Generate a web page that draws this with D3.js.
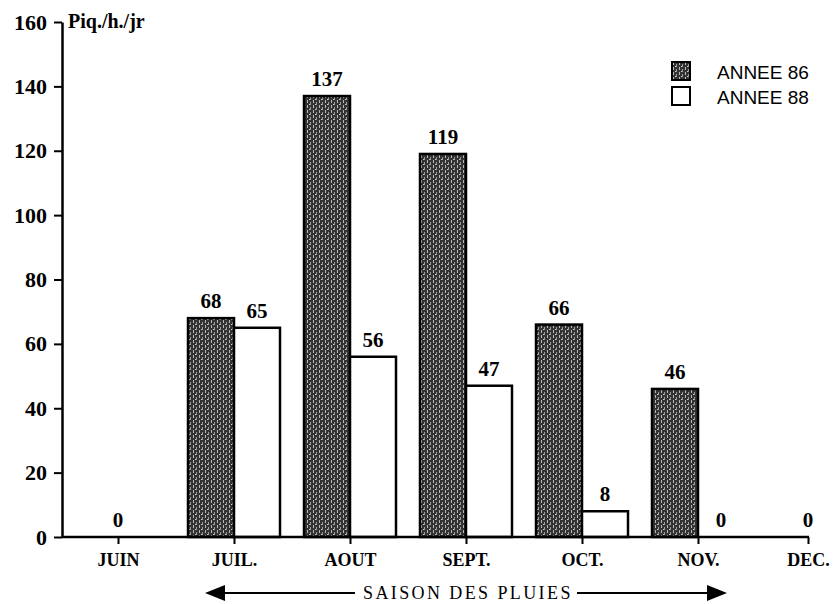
<!DOCTYPE html>
<html>
<head>
<meta charset="utf-8">
<script src="https://cdn.jsdelivr.net/npm/d3@7"></script>
<style>
  body { margin: 0; background: #fff; }
</style>
</head>
<body>
<script>
// data
const months = ["JUIN", "JUIL.", "AOUT", "SEPT.", "OCT.", "NOV.", "DEC."];
const annee86 = [0, 68, 137, 119, 66, 46, 0];
const annee88 = [0, 65, 56, 47, 8, 0, 0];
const yTicks = [0, 20, 40, 60, 80, 100, 120, 140, 160];
const legendLabels = ["ANNEE 86", "ANNEE 88"];

const width = 836, height = 604;
const barW = 46;
const serif = "'Liberation Serif', 'DejaVu Serif', serif";
const sans = "'Liberation Sans', Arial, sans-serif";

let svg = d3.select("body").append("svg")
        .attr("width", width)
        .attr("height", height);

// texture for the 86 bars
let defs = svg.append("defs");
let pat = defs.append("pattern")
        .attr("id", "grain")
        .attr("width", 6)
        .attr("height", 5)
        .attr("patternUnits", "userSpaceOnUse");
pat.append("rect").attr("width", 6).attr("height", 5).attr("fill", "#333");
pat.append("rect").attr("x", 1).attr("y", 0).attr("width", 1).attr("height", 3).attr("fill", "#b8b8b8");
pat.append("rect").attr("x", 4).attr("y", 2).attr("width", 1).attr("height", 3).attr("fill", "#9a9a9a");
pat.append("rect").attr("x", 3).attr("y", 4).attr("width", 1).attr("height", 1).attr("fill", "#d0d0d0");

let y = d3.scaleLinear().domain([0, 160]).range([537, 22]);
// month index -> pixel; last month sits closer to NOV in the figure
let x = d3.scaleLinear().domain([0, 5, 6]).range([118, 698, 808]);

let idx = d3.range(months.length);

// bars
svg.append("g").selectAll("rect")
   .data(idx.filter(i => annee86[i] > 0))
   .join("rect")
   .attr("x", i => x(i) - barW)
   .attr("y", i => y(annee86[i]))
   .attr("width", barW)
   .attr("height", i => y(0) - y(annee86[i]))
   .attr("fill", "url(#grain)")
   .attr("stroke", "#000")
   .attr("stroke-width", 2.5);

svg.append("g").selectAll("rect")
   .data(idx.filter(i => annee88[i] > 0))
   .join("rect")
   .attr("x", i => x(i))
   .attr("y", i => y(annee88[i]))
   .attr("width", barW)
   .attr("height", i => y(0) - y(annee88[i]))
   .attr("fill", "#fff")
   .attr("stroke", "#000")
   .attr("stroke-width", 2.5);

// value labels
let labels = [];
idx.forEach(i => {
  if (annee86[i] === 0 && annee88[i] === 0) {
    labels.push({x: x(i), v: 0});
  } else {
    labels.push({x: x(i) - barW / 2, v: annee86[i]});
    labels.push({x: x(i) + barW / 2, v: annee88[i]});
  }
});
svg.append("g").selectAll("text")
   .data(labels)
   .join("text")
   .attr("font-family", serif)
   .attr("font-weight", "bold")
   .attr("x", d => d.x)
   .attr("y", d => y(d.v) - 10)
   .attr("text-anchor", "middle")
   .attr("font-size", 21)
   .text(d => d.v);

// y axis
let yAxis = d3.axisLeft(y).tickValues(yTicks).tickSize(8).tickSizeOuter(0).tickPadding(7);
let gy = svg.append("g")
   .attr("transform", "translate(62,0)")
   .call(yAxis);
gy.select(".domain").attr("stroke-width", 2.5);
gy.selectAll(".tick line").attr("stroke-width", 2);
gy.selectAll(".tick text")
  .attr("font-family", serif)
  .attr("font-weight", "bold")
  .attr("font-size", 22)
  .attr("fill", "#000");

svg.append("text")
   .attr("font-family", serif)
   .attr("font-weight", "bold")
   .attr("x", 68)
   .attr("y", 28)
   .attr("font-size", 20)
   .text("Piq./h./jr");

// x axis
let xAxis = d3.axisBottom(x).tickValues(idx).tickFormat(i => months[i]).tickSize(7).tickSizeOuter(0).tickPadding(9);
let gx = svg.append("g")
   .attr("transform", "translate(0,537)")
   .call(xAxis);
gx.select(".domain").remove();
gx.selectAll(".tick line").attr("stroke-width", 2);
gx.selectAll(".tick text")
  .attr("font-family", serif)
  .attr("font-weight", "bold")
  .attr("font-size", 18)
  .attr("fill", "#000");
svg.append("line")
   .attr("x1", 62).attr("x2", x(6) + 1)
   .attr("y1", y(0)).attr("y2", y(0))
   .attr("stroke", "#000")
   .attr("stroke-width", 2.5);

// legend
let legend = svg.append("g").attr("transform", "translate(672,62)");
legendLabels.forEach((lab, k) => {
  legend.append("rect")
        .attr("x", 0).attr("y", k * 25)
        .attr("width", 18).attr("height", 18)
        .attr("fill", k === 0 ? "url(#grain)" : "#fff")
        .attr("stroke", "#000")
        .attr("stroke-width", 2);
  legend.append("text")
        .attr("x", 45).attr("y", k * 25 + 17)
        .attr("font-family", sans)
        .attr("font-size", 19)
        .text(lab);
});

// rainy season arrow
const arrowY = 593;
svg.append("line")
   .attr("x1", 222).attr("x2", 355)
   .attr("y1", arrowY).attr("y2", arrowY)
   .attr("stroke", "#000").attr("stroke-width", 2);
svg.append("line")
   .attr("x1", 577).attr("x2", 710)
   .attr("y1", arrowY).attr("y2", arrowY)
   .attr("stroke", "#000").attr("stroke-width", 2);
svg.append("polygon")
   .attr("points", [[205, arrowY], [225, arrowY - 8], [225, arrowY + 8]].join(" "))
   .attr("fill", "#000");
svg.append("polygon")
   .attr("points", [[727, arrowY], [707, arrowY - 8], [707, arrowY + 8]].join(" "))
   .attr("fill", "#000");
svg.append("text")
   .attr("x", 363)
   .attr("y", 599)
   .attr("font-family", serif)
   .attr("font-size", 18)
   .attr("letter-spacing", 2.4)
   .text("SAISON DES PLUIES");
</script>
</body>
</html>
